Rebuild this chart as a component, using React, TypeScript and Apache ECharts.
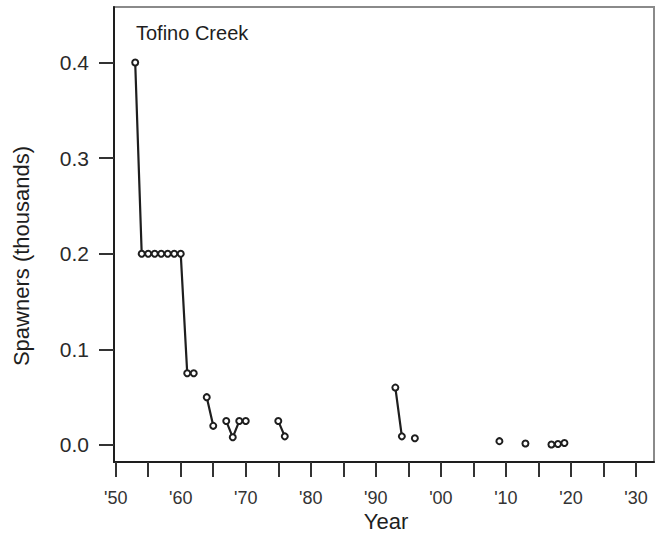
import React, { useEffect, useRef } from "react";
import * as echarts from "echarts";

const years = [1953, 1954, 1955, 1956, 1957, 1958, 1959, 1960, 1961, 1962, 1964, 1965, 1967, 1968, 1969, 1970, 1975, 1976, 1993, 1994, 1996, 2009, 2013, 2017, 2018, 2019];
const spawners = [0.4, 0.2, 0.2, 0.2, 0.2, 0.2, 0.2, 0.2, 0.075, 0.075, 0.05, 0.02, 0.025, 0.008, 0.025, 0.025, 0.025, 0.009, 0.06, 0.009, 0.007, 0.004, 0.0015, 0.0005, 0.001, 0.002];
const xTickValues = [1950, 1955, 1960, 1965, 1970, 1975, 1980, 1985, 1990, 1995, 2000, 2005, 2010, 2015, 2020, 2025, 2030];
const xLabelValues = [1950, 1960, 1970, 1980, 1990, 2000, 2010, 2020, 2030];
const yTickValues = [0, 0.1, 0.2, 0.3, 0.4];
const title = "Tofino Creek";
const xTitle = "Year";
const yTitle = "Spawners (thousands)";

const FONT = "'Liberation Sans', Arial, Helvetica, sans-serif";
const INK = "#1e1e1e";

export default function App() {
  const ref = useRef<HTMLDivElement>(null);
  useEffect(() => {
    if (!ref.current) return;
    const chart = echarts.init(ref.current, null, { renderer: "svg" });
    const data: any[] = [];
    years.forEach((y, i) => {
      if (i > 0 && y - years[i - 1] > 1) data.push([years[i - 1] + 1, "-"]);
      data.push([y, spawners[i]]);
    });
    chart.setOption({
      animation: false,
      backgroundColor: "#fff",
      textStyle: { fontFamily: FONT },
      grid: {
        left: 114,
        top: 7,
        right: 1,
        bottom: 76,
        show: true,
        borderColor: "#8a8a8a",
        borderWidth: 2,
        containLabel: false,
      },
      xAxis: {
        type: "value",
        min: 1949.74,
        max: 2032.77,
        axisLine: { show: true, onZero: false, lineStyle: { color: INK, width: 2 } },
        axisTick: { show: true, length: 15, customValues: xTickValues, lineStyle: { color: "#333", width: 2 } },
        axisLabel: {
          show: true,
          customValues: xLabelValues,
          margin: 27,
          fontSize: 18,
          color: "#333",
          fontFamily: FONT,
          formatter: (v: number) => "'" + String(Math.round(v) % 100).padStart(2, "0"),
        },
        splitLine: { show: false },
      },
      yAxis: {
        type: "value",
        min: -0.0178,
        max: 0.458,
        axisLine: { show: true, onZero: false, lineStyle: { color: INK, width: 2 } },
        axisTick: { show: true, length: 15, customValues: yTickValues, lineStyle: { color: "#333", width: 2 } },
        axisLabel: {
          show: true,
          customValues: yTickValues,
          margin: 25,
          fontSize: 21,
          color: "#2a2a2a",
          fontFamily: FONT,
          formatter: (v: number) => v.toFixed(1),
        },
        splitLine: { show: false },
      },
      graphic: [
        {
          type: "text",
          left: 136,
          top: 23,
          style: { text: title, fontSize: 20, fill: INK, fontFamily: FONT },
        },
        {
          type: "text",
          x: 386,
          y: 521,
          style: { text: xTitle, fontSize: 22, fill: INK, fontFamily: FONT, align: "center", verticalAlign: "middle" },
        },
        {
          type: "text",
          x: 21.5,
          y: 256,
          rotation: Math.PI / 2,
          style: { text: yTitle, fontSize: 22, fill: INK, fontFamily: FONT, align: "center", verticalAlign: "middle" },
        },
      ],
      series: [
        {
          type: "line",
          data,
          connectNulls: false,
          showSymbol: true,
          showAllSymbol: true,
          symbol: "circle",
          symbolSize: 6,
          itemStyle: { color: "#fff", borderColor: INK, borderWidth: 2 },
          lineStyle: { color: INK, width: 2.2 },
          emphasis: { disabled: true },
        },
      ],
    });
    return () => chart.dispose();
  }, []);
  return (
    <div
      ref={ref}
      style={{ position: "absolute", left: 0, top: 0, width: 655, height: 538, background: "#fff" }}
    />
  );
}
